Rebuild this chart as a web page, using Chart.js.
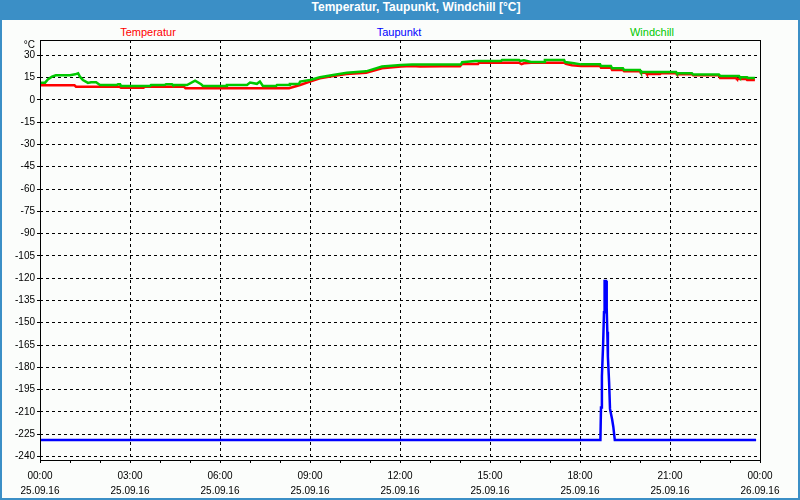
<!DOCTYPE html>
<html>
<head>
<meta charset="utf-8">
<script src="https://cdn.jsdelivr.net/npm/chart.js@4/dist/chart.umd.min.js"></script>
<style>
  html, body { margin: 0; padding: 0; background: #3b8fc6; }
  #frame { position: relative; width: 800px; height: 500px; background: #3b8fc6; overflow: hidden; }
  #title { position: absolute; left: 32px; top: 0; width: 768px; height: 20px; line-height: 20px; text-align: center;
           color: #ffffff; font: bold 12px "Liberation Sans", Arial, sans-serif; }
  #inner { position: absolute; left: 2px; top: 20px; width: 796px; height: 478px; background: #fbfdfb; }
  .leg { position: absolute; top: 6px; font: 11px "Liberation Sans", Arial, sans-serif; transform: translateX(-50%); white-space: nowrap; }
  canvas { position: absolute; left: 0; top: 0; }
</style>
</head>
<body>
<div id="frame">
  <div id="title">Temperatur, Taupunkt, Windchill [°C]</div>
  <div id="inner">
    <span class="leg" id="leg0" style="left:146px;color:#ff0000">Temperatur</span>
    <span class="leg" id="leg1" style="left:397px;color:#0000ff">Taupunkt</span>
    <span class="leg" id="leg2" style="left:650px;color:#00c800">Windchill</span>
    <canvas id="c" width="796" height="478"></canvas>
  </div>
</div>
<script>
// ---- data (hours since 25.09.16 00:00, °C) ----
const seriesNames = ["Temperatur", "Taupunkt", "Windchill"];
const seriesColors = ["#ff0000", "#0000ff", "#00c800"];

const tempTimes = [0, 1.15, 1.2, 2.65, 2.7, 3.45, 3.5, 4.8, 4.85, 8.3, 8.67, 9.0, 9.33, 9.77, 10.22, 10.87, 11.4, 12.03, 12.4, 12.67, 13.4, 14.0, 14.07, 14.6, 14.63, 15.97, 16.05, 16.13, 16.37, 17.47, 17.53, 17.73, 18.03, 18.67, 18.7, 19.03, 19.07, 19.43, 19.47, 20.0, 20.03, 20.2, 20.23, 20.67, 20.7, 21.2, 21.23, 21.73, 21.77, 22.63, 22.67, 23.2, 23.23, 23.53, 23.57, 23.83];
const tempValues = [9.8, 9.8, 8.9, 8.9, 8.2, 8.2, 8.9, 8.9, 7.8, 7.8, 10.0, 12.3, 14.5, 16.1, 17.4, 18.3, 21.3, 22.4, 22.8, 22.4, 22.6, 22.6, 24.2, 24.2, 25.0, 25.0, 24.0, 24.6, 25.0, 25.0, 24.2, 23.3, 22.8, 22.8, 21.7, 21.7, 20.1, 20.1, 19.2, 19.2, 18.3, 18.3, 17.4, 17.4, 17.9, 17.9, 17.2, 17.2, 16.6, 16.6, 14.8, 14.8, 14.1, 14.1, 13.4, 13.4];

const dewTimes = [0, 18.68, 18.70, 18.73, 18.77, 18.80, 18.82, 18.87, 18.89, 18.91, 18.93, 18.97, 19.0, 19.07, 19.11, 19.16, 23.87];
const dewValues = [-229, -229, -207, -186, -165, -143, -122, -122, -140, -156, -173, -190, -208, -215, -220, -229, -229];

const chillTimes = [0, 0.17, 0.27, 0.4, 0.53, 1.0, 1.17, 1.27, 1.33, 1.43, 1.6, 1.7, 1.87, 2.0, 2.55, 2.6, 2.67, 2.7, 3.67, 3.7, 4.15, 4.2, 4.4, 4.43, 4.9, 5.17, 5.37, 5.43, 6.2, 6.23, 6.9, 7.0, 7.23, 7.33, 7.43, 7.87, 7.9, 8.3, 8.33, 8.63, 8.67, 9.0, 9.33, 9.77, 10.23, 10.87, 11.4, 12.03, 12.4, 14.03, 14.07, 14.5, 15.37, 15.4, 15.97, 16.0, 16.13, 16.37, 16.8, 16.83, 17.47, 17.5, 17.8, 18.03, 18.67, 18.7, 19.03, 19.07, 19.43, 19.47, 20.0, 20.03, 21.2, 21.23, 21.73, 21.77, 22.63, 22.67, 23.3, 23.33, 23.57, 23.6, 23.83];
const chillValues = [11.6, 11.6, 13.9, 15.6, 16.6, 16.6, 17.2, 17.9, 15.6, 13.4, 11.4, 11.8, 11.8, 10.0, 10.0, 10.5, 10.5, 9.4, 9.4, 10.0, 10.0, 10.5, 10.5, 10.0, 10.0, 12.9, 10.5, 9.4, 9.4, 10.0, 10.0, 11.6, 10.8, 12.3, 9.4, 9.4, 10.0, 10.0, 10.6, 10.6, 12.3, 13.4, 15.2, 16.8, 18.3, 19.2, 22.4, 23.5, 23.8, 23.8, 25.3, 26.2, 26.2, 26.8, 26.8, 26.2, 26.6, 25.5, 25.5, 26.8, 26.8, 25.5, 24.6, 23.9, 23.9, 22.8, 22.8, 21.3, 21.3, 20.1, 20.1, 18.8, 18.8, 17.9, 17.9, 17.0, 17.0, 16.1, 16.1, 15.2, 15.2, 14.8, 14.8];

// ---- ticks ----
const yTickValues = [-240, -225, -210, -195, -180, -165, -150, -135, -120, -105, -90, -75, -60, -45, -30, -15, 0, 15, 30];
const yUnitLabel = "°C";
const yUnitPos = 36.5;
const xTimeLabels = ["00:00", "03:00", "06:00", "09:00", "12:00", "15:00", "18:00", "21:00", "00:00"];
const xDateLabels = ["25.09.16", "25.09.16", "25.09.16", "25.09.16", "25.09.16", "25.09.16", "25.09.16", "25.09.16", "26.09.16"];
const yMin = -242.4, yMax = 40.3;

function pts(t, v) { return t.map((x, i) => ({ x: x, y: v[i] })); }

const frameBox = {
  id: 'frameBox',
  afterDraw(chart) {
    const { ctx, chartArea: a } = chart;
    ctx.save();
    ctx.strokeStyle = '#000';
    ctx.lineWidth = 1;
    ctx.setLineDash([]);
    ctx.strokeRect(Math.round(a.left) + 0.5, Math.round(a.top) + 0.5, Math.round(a.right - a.left), Math.round(a.bottom - a.top));
    ctx.restore();
  }
};

const FONT = { family: '"Liberation Sans", Arial, sans-serif', size: 10 };

new Chart(document.getElementById('c'), {
  type: 'line',
  data: {
    datasets: [
      { label: seriesNames[0], data: pts(tempTimes, tempValues), borderColor: seriesColors[0], borderWidth: 2.5, order: 2 },
      { label: seriesNames[1], data: pts(dewTimes, dewValues), borderColor: seriesColors[1], borderWidth: 2.5, order: 1 },
      { label: seriesNames[2], data: pts(chillTimes, chillValues), borderColor: seriesColors[2], borderWidth: 2.5, order: 0 }
    ]
  },
  options: {
    responsive: false,
    animation: false,
    events: [],
    elements: { point: { radius: 0 }, line: { tension: 0, borderJoinStyle: 'miter', borderCapStyle: 'butt' } },
    layout: { padding: { top: 20, right: 38, left: 0, bottom: 0 } },
    plugins: { legend: { display: false }, tooltip: { enabled: false }, title: { display: false } },
    scales: {
      x: {
        type: 'linear', min: 0, max: 24,
        afterBuildTicks(s) { const t = []; for (let h = 0; h <= 24; h++) t.push({ value: h }); s.ticks = t; },
        afterFit(s) { s.height = 38; },
        border: { display: false, dash: [3, 3] },
        grid: {
          color: (c) => (c.tick && c.tick.value % 3 === 0 && c.tick.value > 0 && c.tick.value < 24) ? '#000' : 'rgba(0,0,0,0)',
          lineWidth: 1, tickLength: 3, tickColor: '#000', tickBorderDash: []
        },
        ticks: {
          autoSkip: false, maxRotation: 0, color: '#000', padding: 6,
          font: { ...FONT, lineHeight: '15px' },
          callback: (v) => (v % 3 === 0) ? [xTimeLabels[v / 3], xDateLabels[v / 3]] : ''
        }
      },
      y: {
        type: 'linear', min: yMin, max: yMax,
        afterBuildTicks(s) { s.ticks = yTickValues.map(v => ({ value: v })).concat([{ value: yUnitPos }]); },
        afterFit(s) { s.width = 38; },
        border: { display: false, dash: [3, 3] },
        grid: {
          color: (c) => (c.tick && c.tick.value === yUnitPos) ? 'rgba(0,0,0,0)' : '#000',
          lineWidth: 1, tickLength: 3,
          tickColor: (c) => (c.tick && c.tick.value === yUnitPos) ? 'rgba(0,0,0,0)' : '#000',
          tickBorderDash: []
        },
        ticks: {
          autoSkip: false, color: '#000', padding: 2, font: FONT,
          callback: (v) => (v === yUnitPos) ? yUnitLabel : String(v)
        }
      }
    }
  },
  plugins: [frameBox]
});
</script>
</body>
</html>
